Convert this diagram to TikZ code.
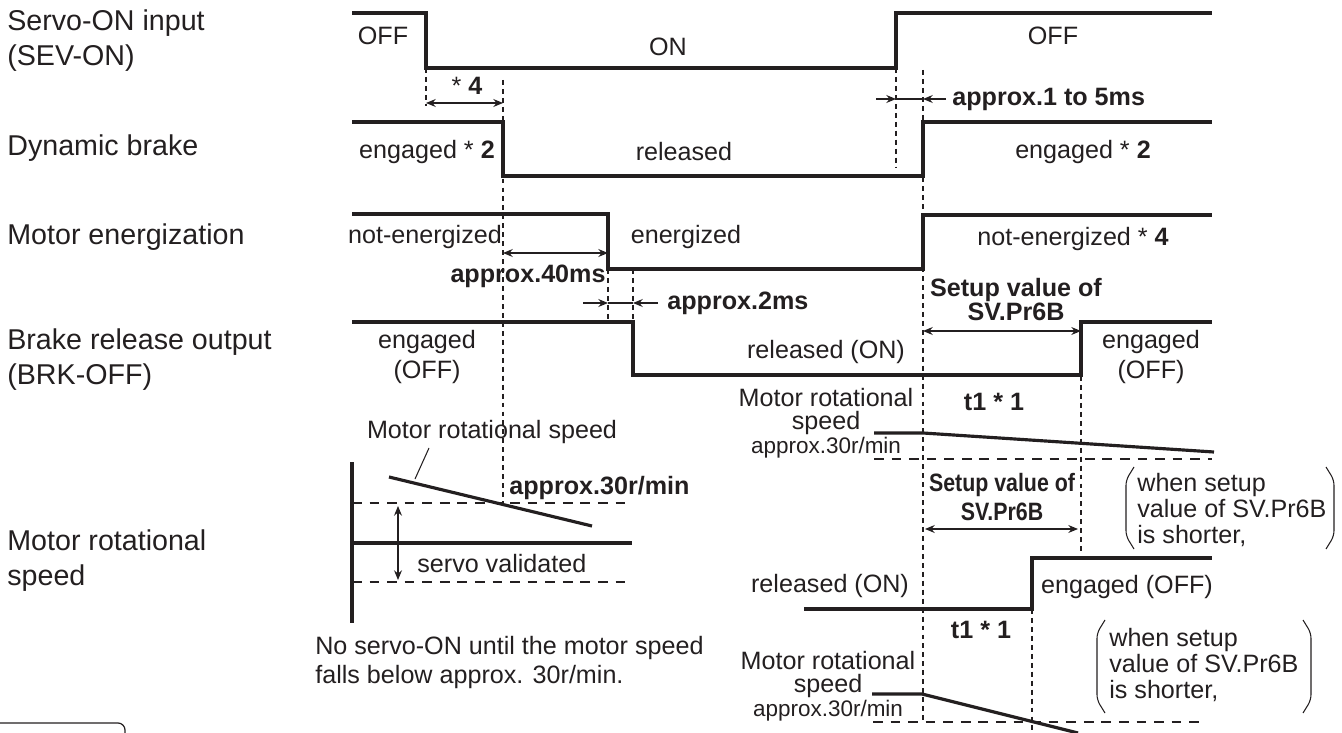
\documentclass[tikz,border=0pt]{standalone}
\usepackage{fontspec}
\setmainfont{Liberation Sans}
\newfontfamily\narrowfont[FakeStretch=0.85]{Liberation Sans}
\usetikzlibrary{positioning,arrows.meta}
\definecolor{ink}{HTML}{231F20}

\tikzset{
  sig/.style={line width=1.8pt},
  vguide/.style={line width=0.6pt,dash pattern=on 2.8pt off 2.3pt},
  hguide/.style={line width=0.6pt,dash pattern=on 5.5pt off 4.5pt},
  span/.style={line width=0.7pt,{Stealth[length=5.5pt,width=4.5pt]}-{Stealth[length=5.5pt,width=4.5pt]}},
  pinch/.style={line width=0.7pt,-{Stealth[length=5.5pt,width=4.5pt]}},
  brack/.style={line width=0.6pt,rounded corners=3pt},
  rowname/.style={font=\fontsize{16.3}{19.9}\selectfont,inner sep=0pt,anchor=west,align=left},
  state/.style={font=\fontsize{14.3}{17}\selectfont,inner sep=0pt,align=center},
  note/.style={font=\fontsize{14.3}{15}\selectfont\bfseries,inner sep=0pt,align=center},
  small/.style={font=\fontsize{14.3}{13.3}\selectfont,inner sep=0pt,align=center}
}

\begin{document}
\begin{tikzpicture}[x=0.02cm,y=-0.02cm,color=ink,text=ink]
  \useasboundingbox (0,0) rectangle (1342,733);

  \node[rowname] (svon) at (7,40.5) {Servo-ON input\\(SEV-ON)};
  \node[rowname] (dynbrk) at (7,148) {Dynamic brake};
  \node[rowname] (energ) at (7,237) {Motor energization};
  \node[rowname] (brkoff) at (7,359.5) {Brake release output\\(BRK-OFF)};
  \node[rowname] (speed) at (7,560.5) {Motor rotational\\speed};

  \draw[sig] (352,13) -- (426,13) -- (426,68) -- (896,68) -- (896,13) -- (1212,13);
  \draw[sig] (352,122) -- (503,122) -- (503,176) -- (923,176) -- (923,122) -- (1212,122);
  \draw[sig] (352,214) -- (608,214) -- (608,269) -- (923,269) -- (923,215) -- (1212,215);
  \draw[sig] (352,322) -- (633,322) -- (633,375) -- (1081,375) -- (1081,322) -- (1212,322);

  \node[state] (off1) at (383,36) {OFF};
  \node[state] (on1) at (668,47) {ON};
  \node[state] (off2) at (1053,36) {OFF};
  \node[state] (eng1) at (427,152) {engaged * \textbf{2}};
  \node[state] (rel1) at (684,152) {released};
  \node[state] (eng2) at (1083,152) {engaged * \textbf{2}};
  \node[state] (noen1) at (425,237) {not-energized};
  \node[state] (en1) at (686,237) {energized};
  \node[state] (noen2) at (1073,239) {not-energized * \textbf{4}};
  \node[state] (eng3) at (427,357) {engaged\\(OFF)};
  \node[state] (rel2) at (826,352) {released (ON)};
  \node[state] (eng4) at (1151,357) {engaged\\(OFF)};

  \draw[vguide] (426,68) -- (426,106);
  \draw[vguide] (503,80) -- (503,503);
  \draw[vguide] (896,68) -- (896,168);
  \draw[vguide] (923,70) -- (923,722);
  \draw[vguide] (608,269) -- (608,322);
  \draw[vguide] (633,269) -- (633,322);
  \draw[vguide] (1081,376) -- (1081,555);
  \draw[vguide] (1032,609) -- (1032,733);

  \draw[span] (426,103) -- (503,103);
  \node[state] (star4) at (467,86) {* \textbf{4}};
  \draw[pinch] (876,99) -- (896,99);
  \draw[line width=0.7pt] (896,99) -- (923,99);
  \draw[pinch] (946,99) -- (923,99);
  \node[note,anchor=west] (ms15) at (952,99) {approx.1 to 5ms};
  \draw[span] (503,253) -- (608,253);
  \node[note] (ms40) at (528,276) {approx.40ms};
  \draw[pinch] (583,303) -- (608,303);
  \draw[line width=0.7pt] (608,303) -- (633,303);
  \draw[pinch] (658,303) -- (633,303);
  \node[note,anchor=west] (ms2) at (667,303) {approx.2ms};
  \node[note,font=\fontsize{14.3}{14.2}\selectfont\bfseries] (pr6b1) at (1016,299.5) {Setup value of\\SV.Pr6B};
  \draw[span] (923,331) -- (1081,331);

  \node[small] (mrs1) at (826,423) {Motor rotational\\speed\\{\fontsize{12.8}{13.3}\selectfont approx.30r/min}};
  \node[note] (t1a) at (994,402) {t1 * 1};
  \draw[sig] (874,433) -- (923,433) -- (1214,452);
  \draw[hguide] (874,459) -- (1212,459);

  \node[note,font=\fontsize{14.3}{16.5}\selectfont\narrowfont\bfseries] (pr6b2) at (1002,497.5) {Setup value of\\SV.Pr6B};
  \draw[span] (925,529) -- (1078,529);
  \node[state,align=left,anchor=west,font=\fontsize{14.3}{15}\selectfont] (when1) at (1137,510) {when setup\\value of SV.Pr6B\\is shorter,};
  \draw[brack] (1134,467) -- (1126,480) -- (1126,536) -- (1134,549);
  \draw[brack] (1326,467) -- (1334,480) -- (1334,536) -- (1326,549);

  \draw[sig] (804,609) -- (1032,609) -- (1032,558) -- (1212,558);
  \node[state] (rel3) at (830,586) {released (ON)};
  \node[state] (eng5) at (1127,587) {engaged (OFF)};
  \node[note] (t1b) at (981,630) {t1 * 1};
  \node[state,align=left,anchor=west,font=\fontsize{14.3}{15}\selectfont] (when2) at (1109,665) {when setup\\value of SV.Pr6B\\is shorter,};
  \draw[brack] (1105,620) -- (1097,633) -- (1097,700) -- (1105,713);
  \draw[brack] (1303,620) -- (1311,633) -- (1311,700) -- (1303,713);
  \node[small] (mrs2) at (828,686) {Motor rotational\\speed\\{\fontsize{12.8}{13.3}\selectfont approx.30r/min}};
  \draw[sig] (872,694) -- (922,694) -- (1078,733);
  \draw[hguide] (873,722) -- (1206,722);

  \draw[sig] (352,462) -- (352,623);
  \draw[sig] (389,477) -- (592,526);
  \node[state] (mrs3) at (492,432) {Motor rotational speed};
  \draw[line width=0.6pt] (429,448) -- (415,479);
  \node[note,anchor=west] (r30) at (509,488) {approx.30r/min};
  \draw[hguide] (352,503) -- (632,503);
  \draw[sig] (352,543) -- (632,543);
  \draw[hguide] (352,582) -- (632,582);
  \draw[span] (398,506) -- (398,580);
  \node[state,anchor=west] (valid) at (417,564) {servo validated};
  \node[state,align=left,anchor=west,font=\fontsize{14.3}{16.4}\selectfont] (noservo) at (315,662.5) {No servo-ON until the motor speed\\falls below approx. 30r/min.};

  \draw[line width=0.7pt,rounded corners=4pt] (0,723) -- (125,723) -- (125,733);
\end{tikzpicture}
\end{document}
